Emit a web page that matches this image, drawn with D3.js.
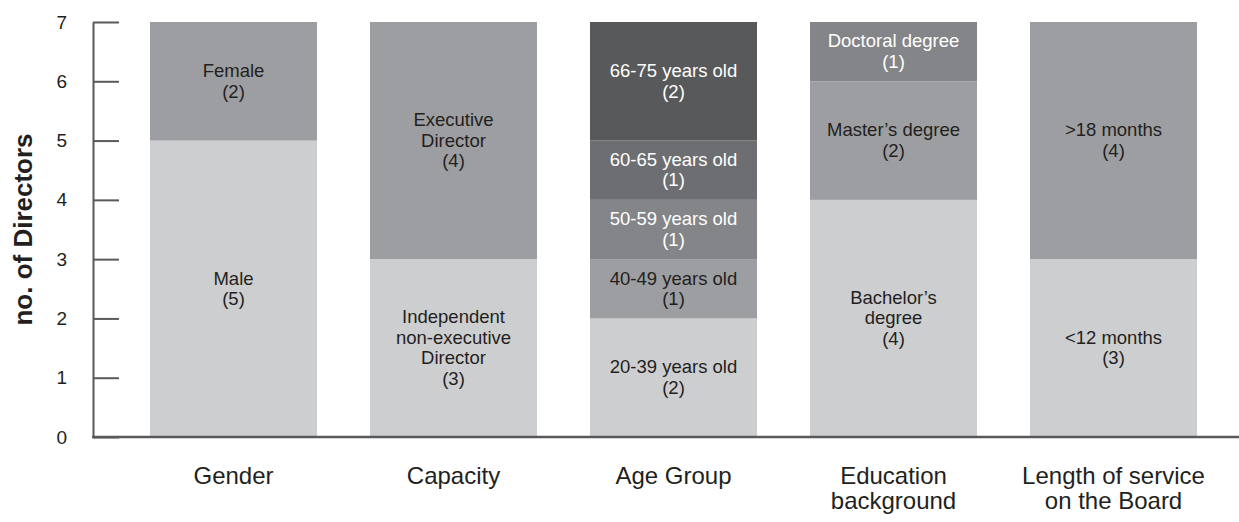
<!DOCTYPE html>
<html>
<head>
<meta charset="utf-8">
<script src="https://cdn.jsdelivr.net/npm/d3@7"></script>
<style>
  body { margin: 0; background: #fff; }
  text { font-family: "Liberation Sans", Arial, Helvetica, sans-serif; }
</style>
</head>
<body>
<div id="canvas"></div>
<script>
// DATA
const categories = ["Gender", "Capacity", "Age Group", "Education\nbackground", "Length of service\non the Board"];

// segments stacked bottom to top for each category
const segLabels = [
    ["Male", "Female"],
    ["Independent\nnon-executive\nDirector", "Executive\nDirector"],
    ["20-39 years old", "40-49 years old", "50-59 years old", "60-65 years old", "66-75 years old"],
    ["Bachelor\u2019s\ndegree", "Master\u2019s degree", "Doctoral degree"],
    ["<12 months", ">18 months"]
];
const segValues = [
    [5, 2],
    [3, 4],
    [2, 1, 1, 1, 2],
    [4, 2, 1],
    [3, 4]
];
// shade index per segment (0 = lightest)
const segShades = [
    [0, 1],
    [0, 1],
    [0, 1, 2, 3, 4],
    [0, 1, 2],
    [0, 1]
];
const yTicks = [0, 1, 2, 3, 4, 5, 6, 7];

// DIMENSIONS
const width = 1239;
const height = 522;
const axisX = 93;
const baseY = 437;
const topY = 22;

const shades = ["#cdced0", "#9d9ea1", "#848588", "#6d6e71", "#58595b"];
const textShade = ["#231f20", "#231f20", "#ffffff", "#ffffff", "#ffffff"];

// CANVAS
const svg = d3.select("#canvas")
    .append("svg")
    .attr("width", width)
    .attr("height", height);

// SCALES
const xScale = d3.scaleBand()
    .domain(categories)
    .range([123.5, 1223.5])
    .paddingInner(0.241)
    .paddingOuter(0.1205);

const yScale = d3.scaleLinear()
    .domain([0, 7])
    .range([baseY, topY]);

// STACK
const segments = [];
categories.forEach((c, i) => {
    let acc = 0;
    segValues[i].forEach((v, j) => {
        segments.push({ cat: c, label: segLabels[i][j], value: v, y0: acc, y1: acc + v, shade: segShades[i][j] });
        acc += v;
    });
});

// BARS
svg.append("g")
    .selectAll("rect")
    .data(segments)
    .enter()
    .append("rect")
    .attr("x", d => xScale(d.cat))
    .attr("width", xScale.bandwidth())
    .attr("y", d => yScale(d.y1))
    .attr("height", d => yScale(d.y0) - yScale(d.y1))
    .attr("fill", d => shades[d.shade]);

// SEGMENT LABELS
const lineH = 20.5;
svg.append("g")
    .selectAll("text")
    .data(segments)
    .enter()
    .append("text")
    .attr("text-anchor", "middle")
    .attr("font-size", 18.5)
    .attr("fill", d => textShade[d.shade])
    .each(function (d) {
        const lines = d.label.split("\n").concat(["(" + d.value + ")"]);
        const cx = xScale(d.cat) + xScale.bandwidth() / 2;
        const cy = (yScale(d.y0) + yScale(d.y1)) / 2;
        const start = cy - (lines.length - 1) * lineH / 2 + 6;
        d3.select(this).selectAll("tspan")
            .data(lines)
            .enter()
            .append("tspan")
            .attr("x", cx)
            .attr("y", (l, k) => start + k * lineH)
            .text(l => l);
    });

// Y AXIS
const yAx = d3.axisLeft(yScale)
    .tickValues(yTicks)
    .tickFormat(d3.format("d"))
    .tickSizeInner(-26)
    .tickSizeOuter(0)
    .tickPadding(26);

const yaxis = svg.append("g")
    .attr("transform", `translate(${axisX}, 0)`)
    .call(yAx);
yaxis.selectAll("line, path").attr("stroke", "#58595b").attr("stroke-width", 2);
yaxis.selectAll("text")
    .attr("font-size", 19)
    .attr("fill", "#231f20")
    .style("font-family", "'Liberation Sans', Arial, sans-serif");

// X BASELINE
svg.append("line")
    .attr("x1", axisX - 1)
    .attr("x2", width)
    .attr("y1", yScale(0))
    .attr("y2", yScale(0))
    .attr("stroke", "#58595b")
    .attr("stroke-width", 2.5);

// CATEGORY LABELS
svg.append("g")
    .selectAll("text")
    .data(categories)
    .enter()
    .append("text")
    .attr("text-anchor", "middle")
    .attr("font-size", 24)
    .attr("fill", "#231f20")
    .each(function (c) {
        d3.select(this).selectAll("tspan")
            .data(c.split("\n"))
            .enter()
            .append("tspan")
            .attr("x", xScale(c) + xScale.bandwidth() / 2)
            .attr("y", (l, k) => 484 + k * 25)
            .text(l => l);
    });

// AXIS TITLE
svg.append("text")
    .attr("transform", `translate(32, ${(yScale(0) + yScale(7)) / 2}) rotate(-90)`)
    .attr("text-anchor", "middle")
    .attr("font-size", 26)
    .attr("font-weight", "bold")
    .attr("fill", "#231f20")
    .text("no. of Directors");
</script>
</body>
</html>
